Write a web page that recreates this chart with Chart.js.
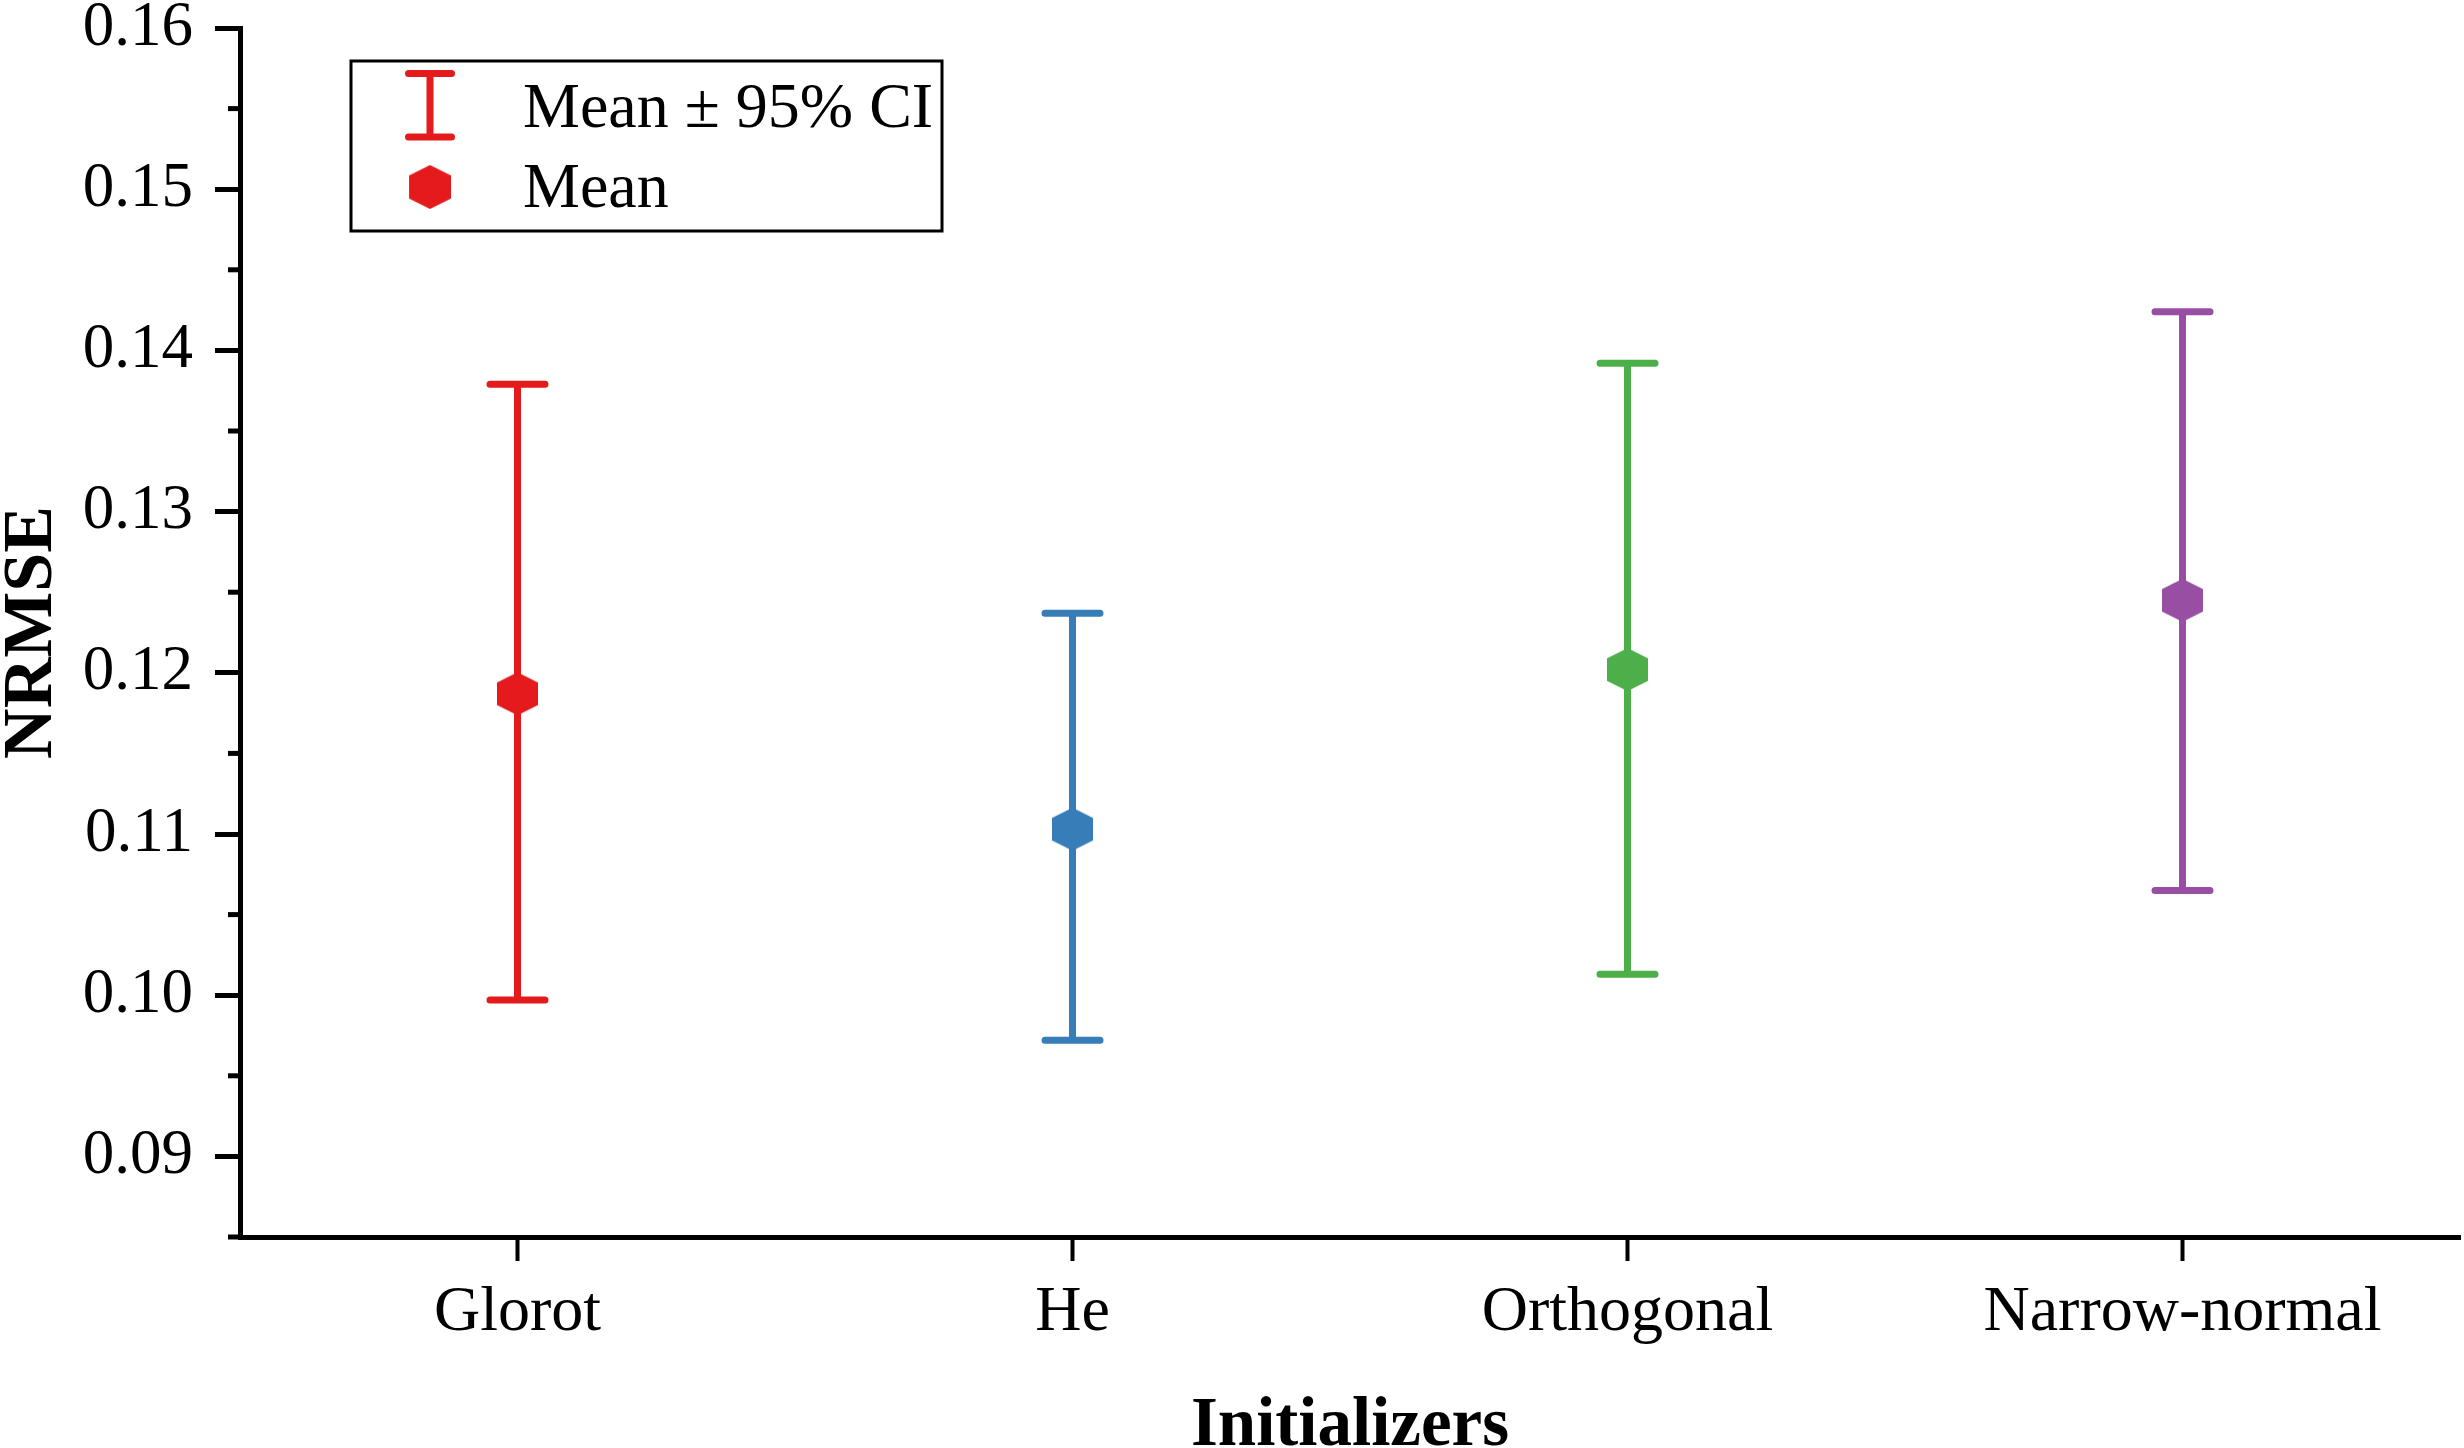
<!DOCTYPE html>
<html lang="en">
<head>
  <meta charset="UTF-8">
  <title>NRMSE by initializer</title>
  <style>
    html, body {
      margin: 0;
      padding: 0;
      overflow: hidden;
      background: #ffffff;
    }

    canvas {
      display: block;
    }
  </style>
</head>
<body>
  <canvas id="ci-chart" width="2464" height="1448"></canvas>
  <script src="https://cdn.jsdelivr.net/npm/chart.js"></script>
  <script>
    // values
    const initializers = ["Glorot", "He", "Orthogonal", "Narrow-normal"];
    const meanValues = [0.1187, 0.1103, 0.1202, 0.1245];
    const ciLower = [0.0997, 0.0972, 0.1013, 0.1065];
    const ciUpper = [0.1379, 0.1237, 0.1392, 0.1424];
    const seriesColors = ["#e41a1c", "#377eb8", "#4daf4a", "#984ea3"];
    const legendLabels = ["Mean \u00b1 95% CI", "Mean"];

    const serif = "'Liberation Serif', 'Times New Roman', serif";

    // pointy-top hexagon used as the mean marker
    function hexagon(color, w, h) {
      const c = document.createElement("canvas");
      c.width = w + 2;
      c.height = h + 2;
      const g = c.getContext("2d");
      const cx = c.width / 2, cy = c.height / 2;
      const hw = w / 2, hh = h / 2, q = h * 0.26;
      g.fillStyle = color;
      g.beginPath();
      g.moveTo(cx, cy - hh);
      g.lineTo(cx + hw, cy - q);
      g.lineTo(cx + hw, cy + q);
      g.lineTo(cx, cy + hh);
      g.lineTo(cx - hw, cy + q);
      g.lineTo(cx - hw, cy - q);
      g.closePath();
      g.fill();
      return c;
    }

    const markers = seriesColors.map(col => hexagon(col, 41, 43));

    const isMajor = v => Math.round(v * 1000) % 10 === 0;

    // vertical CI bars, drawn under the markers
    const errorBars = {
      id: "errorBars",
      beforeDatasetsDraw(chart) {
        const ctx = chart.ctx;
        const yScale = chart.scales.y;
        const meta = chart.getDatasetMeta(0);
        ctx.save();
        ctx.lineWidth = 7;
        meta.data.forEach((pt, i) => {
          const x = pt.x;
          const yLo = yScale.getPixelForValue(ciLower[i]);
          const yHi = yScale.getPixelForValue(ciUpper[i]);
          ctx.strokeStyle = seriesColors[i];
          ctx.lineCap = "butt";
          ctx.beginPath();
          ctx.moveTo(x, yHi);
          ctx.lineTo(x, yLo);
          ctx.stroke();
          ctx.lineCap = "round";
          ctx.beginPath();
          ctx.moveTo(x - 27.5, yHi);
          ctx.lineTo(x + 27.5, yHi);
          ctx.moveTo(x - 27.5, yLo);
          ctx.lineTo(x + 27.5, yLo);
          ctx.stroke();
        });
        ctx.restore();
      }
    };

    // short minor ticks on the y axis
    const minorTicks = {
      id: "minorTicks",
      afterDraw(chart) {
        const ctx = chart.ctx;
        const yScale = chart.scales.y;
        const x = yScale.right;
        ctx.save();
        ctx.strokeStyle = "#000";
        ctx.lineWidth = 5;
        yScale.ticks.forEach(t => {
          if (isMajor(t.value)) return;
          const y = yScale.getPixelForValue(t.value);
          ctx.beginPath();
          ctx.moveTo(x - 12, y);
          ctx.lineTo(x, y);
          ctx.stroke();
        });
        ctx.restore();
      }
    };

    // boxed legend in the upper left of the plot
    const boxLegend = {
      id: "boxLegend",
      afterDraw(chart) {
        const ctx = chart.ctx;
        const area = chart.chartArea;
        const left = area.left + 111;
        const top = area.top + 33;
        ctx.save();
        ctx.strokeStyle = "#000";
        ctx.lineWidth = 3;
        ctx.strokeRect(left, top, 591, 170);

        // error bar symbol
        const sx = left + 79;
        ctx.strokeStyle = seriesColors[0];
        ctx.lineWidth = 7;
        ctx.lineCap = "butt";
        ctx.beginPath();
        ctx.moveTo(sx, top + 12);
        ctx.lineTo(sx, top + 76);
        ctx.stroke();
        ctx.lineCap = "round";
        ctx.beginPath();
        ctx.moveTo(sx - 21.5, top + 12.5);
        ctx.lineTo(sx + 21.5, top + 12.5);
        ctx.moveTo(sx - 21.5, top + 76);
        ctx.lineTo(sx + 21.5, top + 76);
        ctx.stroke();

        // mean symbol
        ctx.drawImage(markers[0], sx - 22, top + 103, 44, 46);

        ctx.fillStyle = "#000";
        ctx.font = "64px " + serif;
        ctx.textAlign = "left";
        ctx.textBaseline = "alphabetic";
        ctx.fillText(legendLabels[0], left + 172, top + 66);
        ctx.fillText(legendLabels[1], left + 172, top + 146);
        ctx.restore();
      }
    };

    const ctx = document.getElementById("ci-chart").getContext("2d");

    new Chart(ctx, {
      type: "line",
      data: {
        labels: initializers,
        datasets: [
          {
            label: legendLabels[1],
            data: meanValues,
            showLine: false,
            pointStyle: markers,
            // the canvas marker keeps its own size; a small radius keeps
            // the point overflow from padding the chart area
            pointRadius: 1,
            pointBackgroundColor: seriesColors,
            pointBorderWidth: 0,
          },
        ],
      },
      options: {
        responsive: false,
        animation: false,
        events: [],
        layout: {
          padding: { top: 28, right: 3, bottom: 0, left: 0 },
        },
        scales: {
          x: {
            type: "category",
            offset: true,
            grid: {
              drawOnChartArea: false,
              offset: false,
              tickLength: 24,
              tickWidth: 4,
              tickColor: "#000",
            },
            border: { display: true, color: "#000", width: 5 },
            ticks: {
              color: "#000",
              padding: 14,
              font: { family: serif, size: 64, lineHeight: 1.2 },
            },
            title: {
              display: true,
              text: "Initializers",
              color: "#000",
              padding: 0,
              font: { family: serif, size: 69, weight: "bold", lineHeight: 0.6 },
            },
            afterFit(scale) {
              scale.height = 211;
              scale.paddingLeft = 0;
              scale.paddingRight = 0;
            },
          },
          y: {
            min: 0.085,
            max: 0.16,
            grid: {
              drawOnChartArea: false,
              tickLength: 25,
              tickWidth: 5,
              tickColor: c => (c.tick && isMajor(c.tick.value) ? "#000" : "rgba(0,0,0,0)"),
            },
            border: { display: true, color: "#000", width: 5 },
            ticks: {
              stepSize: 0.005,
              autoSkip: false,
              color: "#000",
              padding: 22,
              font: { family: serif, size: 63, lineHeight: 1.2 },
              callback: v => (isMajor(v) ? v.toFixed(2) : ""),
            },
            title: {
              display: true,
              text: "NRMSE",
              color: "#000",
              padding: 0,
              font: { family: serif, size: 70, weight: "bold", lineHeight: 0.95 },
            },
            afterFit(scale) {
              scale.width = 240;
              scale.paddingTop = 0;
              scale.paddingBottom = 0;
            },
          },
        },
        plugins: {
          legend: { display: false },
          tooltip: { enabled: false },
        },
      },
      plugins: [errorBars, minorTicks, boxLegend],
    });
  </script>
</body>
</html>
